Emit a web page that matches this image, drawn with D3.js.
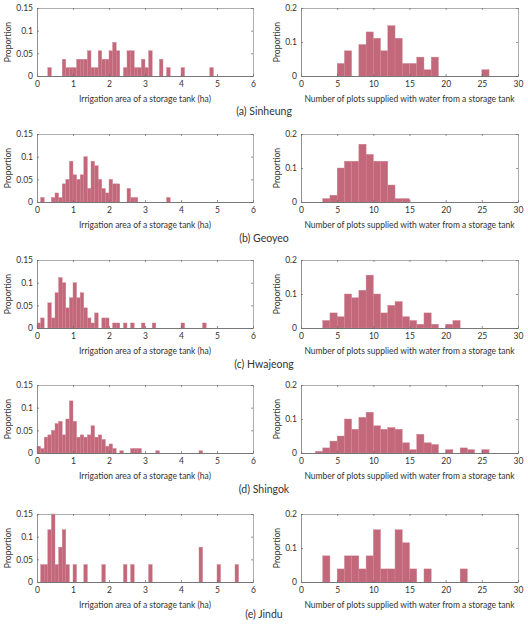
<!DOCTYPE html>
<html><head><meta charset="utf-8">
<script src="https://cdn.jsdelivr.net/npm/d3@7"></script>
<style>
html,body{margin:0;padding:0;background:#fff;}
svg{display:block;}
text{font-family:Lato,"Open Sans",sans-serif;fill:#333;}
</style></head>
<body>
<svg id="chart" width="528" height="628"></svg>
<script>
// ---------- data ----------
const siteNames = ["(a) Sinheung", "(b) Geoyeo", "(c) Hwajeong", "(d) Shingok", "(e) Jindu"];

const areaTicks = [0, 1, 2, 3, 4, 5, 6];
const plotTicks = [0, 5, 10, 15, 20, 25, 30];
const areaPropTicks = [0, 0.05, 0.1, 0.15];
const plotPropTicks = [0, 0.1, 0.2];
const areaBinWidth = 0.1;
const plotBinWidth = 1;

const sinheungAreaBins = [0.3,0.7,0.8,0.9,1.0,1.1,1.2,1.3,1.4,1.5,1.6,1.7,1.8,1.9,2.0,2.1,2.2,2.4,2.5,2.6,2.7,2.8,2.9,3.0,3.1,3.4,3.6,4.0,4.8];
const sinheungAreaProp = [0.0185,0.037,0.0185,0.0185,0.0185,0.037,0.037,0.037,0.0556,0.0185,0.0185,0.0556,0.037,0.037,0.0556,0.0741,0.0556,0.0185,0.0556,0.0556,0.0185,0.0185,0.037,0.0185,0.0556,0.037,0.0185,0.0185,0.0185];
const sinheungPlotBins = [5,6,8,9,10,11,12,13,14,15,16,17,18,25];
const sinheungPlotProp = [0.037,0.0741,0.0926,0.1296,0.1111,0.0741,0.1481,0.1111,0.037,0.037,0.0556,0.0185,0.0556,0.0185];

const geoyeoAreaBins = [0.1,0.4,0.5,0.6,0.7,0.8,0.9,1.0,1.1,1.2,1.3,1.4,1.5,1.6,1.7,1.8,1.9,2.0,2.1,2.2,2.5,2.6,2.7,3.6];
const geoyeoAreaProp = [0.01,0.01,0.02,0.01,0.04,0.05,0.09,0.06,0.05,0.06,0.10,0.03,0.09,0.08,0.05,0.03,0.02,0.05,0.04,0.04,0.03,0.01,0.01,0.01];
const geoyeoPlotBins = [3,4,5,6,7,8,9,10,11,12,13,14];
const geoyeoPlotProp = [0.01,0.02,0.10,0.12,0.12,0.17,0.14,0.12,0.12,0.05,0.01,0.01];

const hwajeongAreaBins = [0.0,0.1,0.3,0.4,0.5,0.6,0.7,0.8,0.9,1.0,1.1,1.2,1.3,1.4,1.5,1.6,1.8,1.9,2.1,2.2,2.4,2.6,2.9,3.2,4.0,4.6];
const hwajeongAreaProp = [0.0111,0.0222,0.0556,0.0222,0.0778,0.1111,0.1,0.0444,0.0667,0.1,0.0667,0.0778,0.0444,0.0222,0.0111,0.0333,0.0222,0.0222,0.0111,0.0111,0.0111,0.0111,0.0111,0.0111,0.0111,0.0111];
const hwajeongPlotBins = [3,4,5,6,7,8,9,10,11,12,13,14,15,16,17,18,20,21];
const hwajeongPlotProp = [0.0222,0.0444,0.0333,0.1,0.0889,0.1111,0.1556,0.1,0.0444,0.0667,0.0778,0.0333,0.0222,0.0111,0.0444,0.0111,0.0111,0.0222];

const shingokAreaBins = [0.0,0.1,0.2,0.3,0.4,0.5,0.6,0.7,0.8,0.9,1.0,1.1,1.2,1.3,1.4,1.5,1.6,1.7,1.8,1.9,2.0,2.1,2.3,2.6,2.7,2.8,3.3,4.5];
const shingokAreaProp = [0.015,0.01,0.035,0.04,0.05,0.065,0.07,0.04,0.075,0.115,0.07,0.035,0.04,0.035,0.04,0.06,0.035,0.04,0.03,0.015,0.02,0.01,0.005,0.01,0.01,0.01,0.005,0.005];
const shingokPlotBins = [2,3,4,5,6,7,8,9,10,11,12,13,14,15,16,17,18,20,22,23,25];
const shingokPlotProp = [0.005,0.015,0.035,0.05,0.10,0.07,0.105,0.12,0.08,0.07,0.075,0.07,0.03,0.01,0.055,0.03,0.025,0.01,0.015,0.01,0.01];

const jinduAreaBins = [0.1,0.2,0.3,0.4,0.5,0.6,0.7,0.8,1.0,1.3,1.8,2.4,2.6,3.1,4.5,5.0,5.5];
const jinduAreaProp = [0.0385,0.0385,0.1154,0.1538,0.0385,0.0769,0.1154,0.0385,0.0385,0.0385,0.0385,0.0385,0.0385,0.0385,0.0769,0.0385,0.0385];
const jinduPlotBins = [3,5,6,7,8,9,10,11,12,13,14,15,17,22];
const jinduPlotProp = [0.0769,0.0385,0.0769,0.0769,0.0385,0.0769,0.1538,0.0385,0.0385,0.1538,0.1154,0.0385,0.0385,0.0385];

const areaSeries = [
  [sinheungAreaBins, sinheungAreaProp],
  [geoyeoAreaBins, geoyeoAreaProp],
  [hwajeongAreaBins, hwajeongAreaProp],
  [shingokAreaBins, shingokAreaProp],
  [jinduAreaBins, jinduAreaProp]
];
const plotSeries = [
  [sinheungPlotBins, sinheungPlotProp],
  [geoyeoPlotBins, geoyeoPlotProp],
  [hwajeongPlotBins, hwajeongPlotProp],
  [shingokPlotBins, shingokPlotProp],
  [jinduPlotBins, jinduPlotProp]
];

// ---------- layout ----------
const svg = d3.select("#chart");
const rowTops = [8, 134, 260, 385, 514];
const plotH = 68;
const captionY = [111, 238, 364, 489, 614];
const barFill = "#c3687b";
const barStroke = "#cf8494";

function fmt(v){ return String(+v.toFixed(3)); }

function drawPanel(g, opts) {
  const {x0, x1, top, xDomain, yDomain, xTicks, yTicks, bins, props, binW, xTitle, yLabelOff} = opts;
  const x = d3.scaleLinear().domain(xDomain).range([x0, x1]);
  const y = d3.scaleLinear().domain(yDomain).range([top + plotH, top]);
  const data = bins.map((b, i) => ({b, p: Math.min(props[i], yDomain[1])}));

  g.append("g").selectAll("rect").data(data).join("rect")
    .attr("x", d => x(d.b))
    .attr("width", d => x(d.b + binW) - x(d.b))
    .attr("y", d => y(d.p))
    .attr("height", d => y(0) - y(d.p))
    .attr("fill", barFill)
    .attr("stroke", barStroke)
    .attr("stroke-width", 0.4);

  const styleAxis = (sel, col) => {
    sel.select(".domain").attr("stroke", col).attr("stroke-width", 0.8);
    sel.selectAll(".tick line").attr("stroke", "#666").attr("stroke-width", 0.7);
    sel.selectAll("text").attr("font-family", "Lato, sans-serif").attr("font-size", 8.5).attr("fill", "#333");
  };

  g.append("g").attr("transform", `translate(0,${top})`)
    .call(d3.axisTop(x).tickValues(xTicks).tickSize(-2).tickSizeOuter(0).tickFormat(""))
    .call(s => styleAxis(s, "#999"));
  g.append("g").attr("transform", `translate(${x1},0)`)
    .call(d3.axisRight(y).tickValues(yTicks).tickSize(-2).tickSizeOuter(0).tickFormat(""))
    .call(s => styleAxis(s, "#999"));
  g.append("g").attr("transform", `translate(0,${top + plotH})`)
    .call(d3.axisBottom(x).tickValues(xTicks).tickSize(-2).tickSizeOuter(0).tickPadding(5).tickFormat(fmt))
    .call(s => styleAxis(s, "#555"));
  g.append("g").attr("transform", `translate(${x0},0)`)
    .call(d3.axisLeft(y).tickValues(yTicks).tickSize(-2).tickSizeOuter(0).tickPadding(4).tickFormat(fmt))
    .call(s => styleAxis(s, "#777"));

  g.append("text")
    .attr("x", (x0 + x1) / 2).attr("y", top + plotH + 26)
    .attr("text-anchor", "middle").attr("font-size", 8.5)
    .text(xTitle);
  g.append("text")
    .attr("transform", `translate(${x0 - yLabelOff},${top + plotH / 2}) rotate(-90)`)
    .attr("text-anchor", "middle").attr("font-size", 8.5)
    .text("Proportion");
}

siteNames.forEach((name, r) => {
  const g = svg.append("g");
  const top = rowTops[r];
  drawPanel(g, {
    x0: 37, x1: 253, top,
    xDomain: [0, 6], yDomain: [0, 0.15],
    xTicks: areaTicks, yTicks: areaPropTicks,
    bins: areaSeries[r][0], props: areaSeries[r][1], binW: areaBinWidth,
    xTitle: "Irrigation area of a storage tank (ha)", yLabelOff: 26
  });
  drawPanel(g, {
    x0: 301, x1: 518, top,
    xDomain: [0, 30], yDomain: [0, 0.2],
    xTicks: plotTicks, yTicks: plotPropTicks,
    bins: plotSeries[r][0], props: plotSeries[r][1], binW: plotBinWidth,
    xTitle: "Number of plots supplied with water from a storage tank", yLabelOff: 21
  });
  g.append("text")
    .attr("x", 264).attr("y", captionY[r] + 4)
    .attr("text-anchor", "middle").attr("font-size", 10.5).attr("fill", "#222")
    .text(name);
});
</script>
</body></html>
